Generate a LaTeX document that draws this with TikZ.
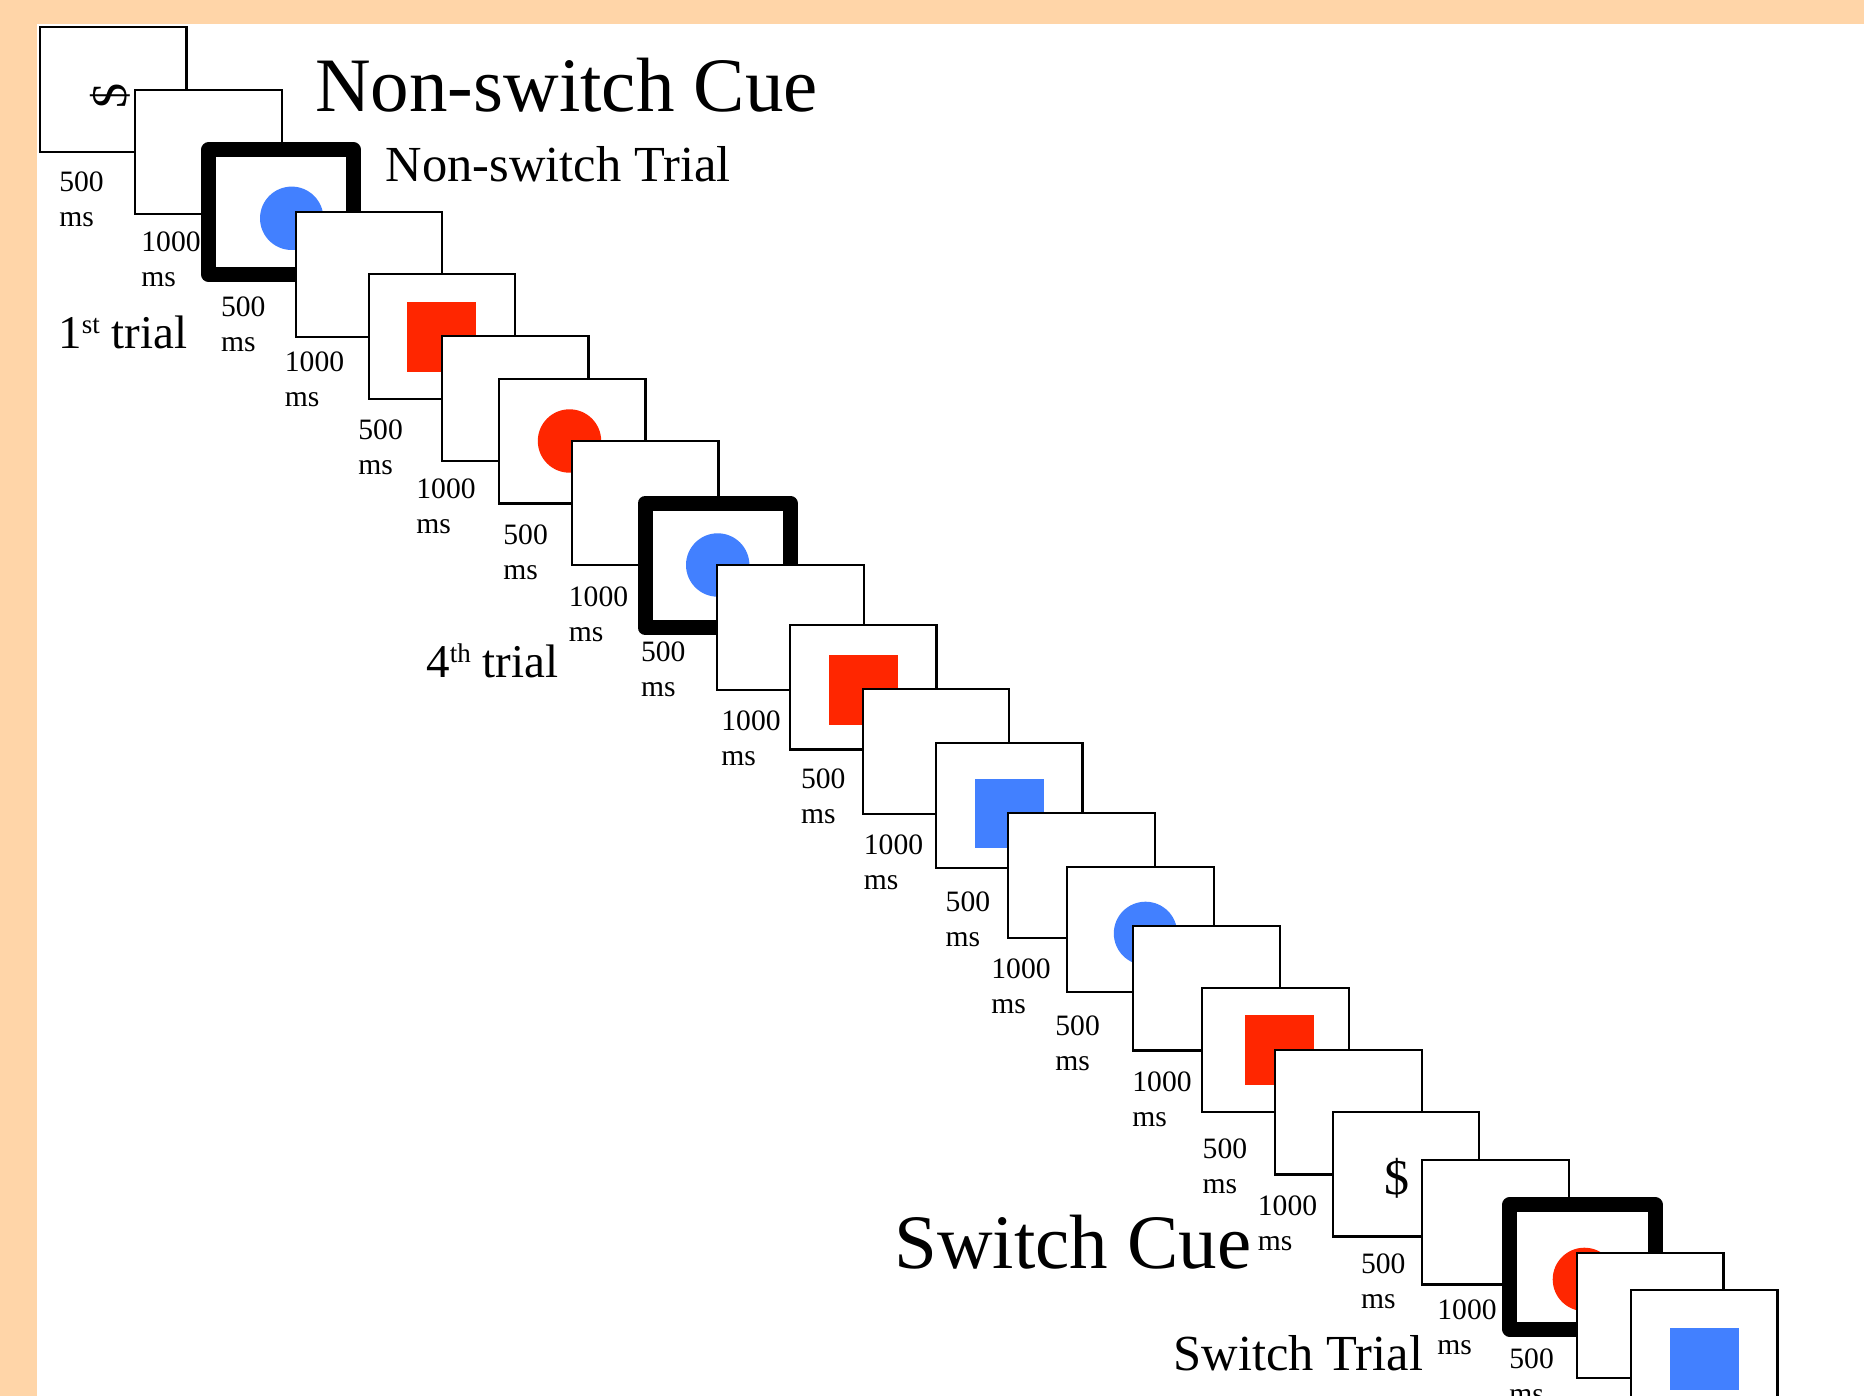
\documentclass[tikz,border=0pt]{standalone}
\usepackage{fontspec}
\setmainfont{Liberation Serif}
\definecolor{peach}{RGB}{255,213,168}
\definecolor{stimblue}{RGB}{66,128,255}
\definecolor{stimred}{RGB}{255,38,0}
\newcommand\stimframe[2]{\draw[frame] (#1,#2) rectangle ++(146.5,124.4);}
\newcommand\cueframeat[2]{\draw[cueframe] (#1,#2) rectangle ++(145.3,124.3);}
\begin{document}
\begin{tikzpicture}[x=0.5pt,y=-0.5pt,
  frame/.style={draw=black,line width=1.1pt,fill=white},
  cueframe/.style={draw=black,line width=7.5pt,line join=round,fill=white},
  dur/.style={font=\fontsize{14.8}{17.5}\selectfont,anchor=base west,inner sep=0pt},
  label/.style={anchor=base west,inner sep=0pt},
  bigtitle/.style={label,font=\fontsize{38.5}{46}\selectfont},
  subtitle/.style={label,font=\fontsize{25.25}{30}\selectfont},
  trialno/.style={label,font=\fontsize{23.5}{28}\selectfont},
  cuesign/.style={inner sep=0pt,font=\fontsize{25}{30}\selectfont}]
\useasboundingbox (0,0) rectangle (1864,1396);
\clip (0,0) rectangle (1864,1396);
% slide background with its peach margin
\fill[peach] (0,0) rectangle (1864,1396);
\fill[white] (36.5,24) rectangle (1864,1396);

% stimulus sequence, each screen drawn over the previous one
\stimframe{40}{27.3}
\node[cuesign,rotate=90] (cue1) at (110,96) {\$};
\stimframe{135.3}{89.7}
\cueframeat{208.5}{150}
\fill[stimblue] (291.7,218.3) circle (31.7);
\stimframe{295.7}{212.3}
\stimframe{368.7}{274.3}
\fill[stimred] (407,302) rectangle (476,372);
\stimframe{442}{336.3}
\stimframe{499}{379}
\fill[stimred] (569.5,441) circle (31.7);
\stimframe{572}{440.7}
\cueframeat{645}{503.3}
\fill[stimblue] (717.7,565) circle (31.7);
\stimframe{717.3}{565.3}
\stimframe{790}{625}
\fill[stimred] (829,654.7) rectangle (898,725);
\stimframe{862.7}{689.3}
\stimframe{936}{743.3}
\fill[stimblue] (975,778.6) rectangle (1044,848);
\stimframe{1008.3}{813.3}
\stimframe{1067.3}{867.3}
\fill[stimblue] (1145.5,933.4) circle (31.7);
\stimframe{1133.3}{926}
\stimframe{1202.3}{987.7}
\fill[stimred] (1245,1015) rectangle (1314,1085);
\stimframe{1275.3}{1050}
\stimframe{1332.7}{1112}
\node[cuesign] (cue2) at (1397,1178) {\$};
\stimframe{1422.3}{1160}
\cueframeat{1509.8}{1204.7}
\fill[stimred] (1584.4,1279.4) circle (31.7);
\stimframe{1577}{1253.3}
\stimframe{1631}{1289.7}
\fill[stimblue] (1670,1328) rectangle (1739,1390);

% durations under each screen
\foreach \n/\x/\y/\t in {1/59/191.7/500, 2/141/251.7/1000, 3/220.7/316.7/500,
    4/284.5/371.7/1000, 5/358/439/500, 6/416/498.5/1000, 7/503/544/500,
    8/568.5/606/1000, 9/640.7/661.7/500, 10/721/730/1000, 11/800.7/788.5/500,
    12/863.5/854/1000, 13/945.3/911/500, 14/991/978.3/1000, 15/1055/1035.7/500,
    16/1132/1091.7/1000, 17/1202.3/1158.3/500, 18/1257.5/1215/1000,
    19/1360.7/1273.3/500, 20/1437/1319.3/1000, 21/1509/1368.3/500}{
  \node[dur] (d\n) at (\x,\y) {\t};
  \node[dur] (m\n) at (\x,{\y+35}) {ms};
}

% headings
\node[bigtitle] (nscue) at (315,111.7) {Non-switch Cue};
\node[subtitle] (nstrial) at (385.5,181.7) {Non-switch Trial};
\node[trialno] (trial1) at (58,348.3) {1\raisebox{7.5pt}{\fontsize{13.5}{14}\selectfont st} trial};
\node[trialno] (trial4) at (426,677.3) {4\raisebox{7.5pt}{\fontsize{13.5}{14}\selectfont th} trial};
\node[bigtitle] (scue) at (894,1268.3) {Switch Cue};
\node[subtitle] (strial) at (1173.5,1370) {Switch Trial};
\end{tikzpicture}
\end{document}
